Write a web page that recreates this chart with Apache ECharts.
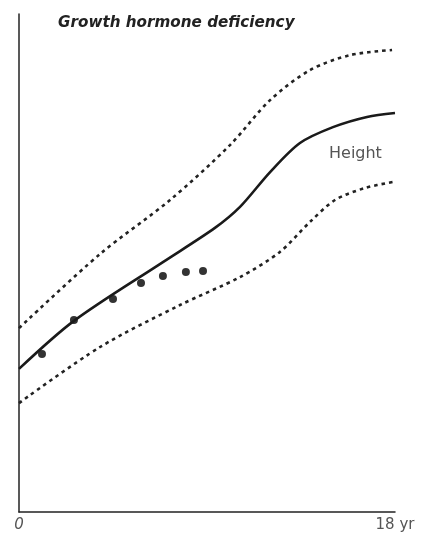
<!DOCTYPE html>
<html>
<head>
<meta charset="utf-8">
<script src="https://cdn.jsdelivr.net/npm/echarts@6/dist/echarts.min.js"></script>
<style>
html,body{margin:0;padding:0;background:#fff;}
#chart{width:421px;height:537px;}
</style>
</head>
<body>
<div id="chart"></div>
<script>
// Age (years) and height (arbitrary units)
var heightMedian = [[0,47.7],[2.63,63.7],[6.89,83.3],[9.38,94.7],[10.58,101.7],[12.02,113.3],[13.45,123.0],[15.03,128.3],[16.66,131.7],[18,133.0]];
var heightUpper = [[0,61.3],[3.88,86.0],[7.23,104.0],[10.10,122.3],[12.02,137.3],[13.93,147.3],[15.85,152.3],[17.86,154.0]];
var heightLower = [[0,36.3],[3.88,55.0],[7.71,69.0],[10.58,78.3],[12.49,86.7],[13.93,96.7],[15.13,104.0],[16.56,108.0],[17.9,110.0]];
var patientPoints = [[1.10,52.7],[2.63,64.0],[4.50,71.0],[5.84,76.3],[6.89,78.7],[7.99,80.0],[8.81,80.3]];
var xTickLabels = {0:'0', 18:'18 yr'};

var chart = echarts.init(document.getElementById('chart'));
var dotted = {type:[3.5,4], width:2.6, color:'#222', cap:'butt'};
chart.setOption({
  animation:false,
  backgroundColor:'#fff',
  title:{
    text:'Growth hormone deficiency',
    left:53, top:11,
    textStyle:{fontFamily:'DejaVu Sans', fontStyle:'italic', fontWeight:'bold', fontSize:15.2, color:'#222'}
  },
  grid:{left:19, right:26, top:14, bottom:25, containLabel:false},
  xAxis:{
    type:'value', min:0, max:18, interval:18,
    axisLine:{lineStyle:{color:'#222', width:1.5}},
    axisTick:{show:false}, splitLine:{show:false},
    axisLabel:{
      formatter:function(v){return v===0 ? '{i|'+xTickLabels[v]+'}' : (xTickLabels[v]||'');},
      color:'#555', fontSize:15, fontFamily:'DejaVu Sans', margin:6,
      rich:{i:{fontStyle:'italic', fontSize:15, color:'#555', fontFamily:'DejaVu Sans'}}
    }
  },
  yAxis:{
    type:'value', min:0, max:166,
    axisLine:{show:true, lineStyle:{color:'#222', width:1.5}},
    axisTick:{show:false}, splitLine:{show:false}, axisLabel:{show:false}
  },
  graphic:[{
    type:'text', left:329, top:146,
    style:{text:'Height', fill:'#555', fontSize:16, fontFamily:'DejaVu Sans'}
  }],
  series:[
    {type:'line', data:heightUpper, smooth:0.3, symbol:'none', lineStyle:dotted},
    {type:'line', data:heightLower, smooth:0.3, symbol:'none', lineStyle:dotted},
    {type:'line', data:heightMedian, smooth:0.3, symbol:'none', lineStyle:{width:2.6, color:'#1a1a1a'}},
    {type:'scatter', data:patientPoints, symbol:'circle', symbolSize:8, itemStyle:{color:'#000'}}
  ]
});
</script>
</body>
</html>
